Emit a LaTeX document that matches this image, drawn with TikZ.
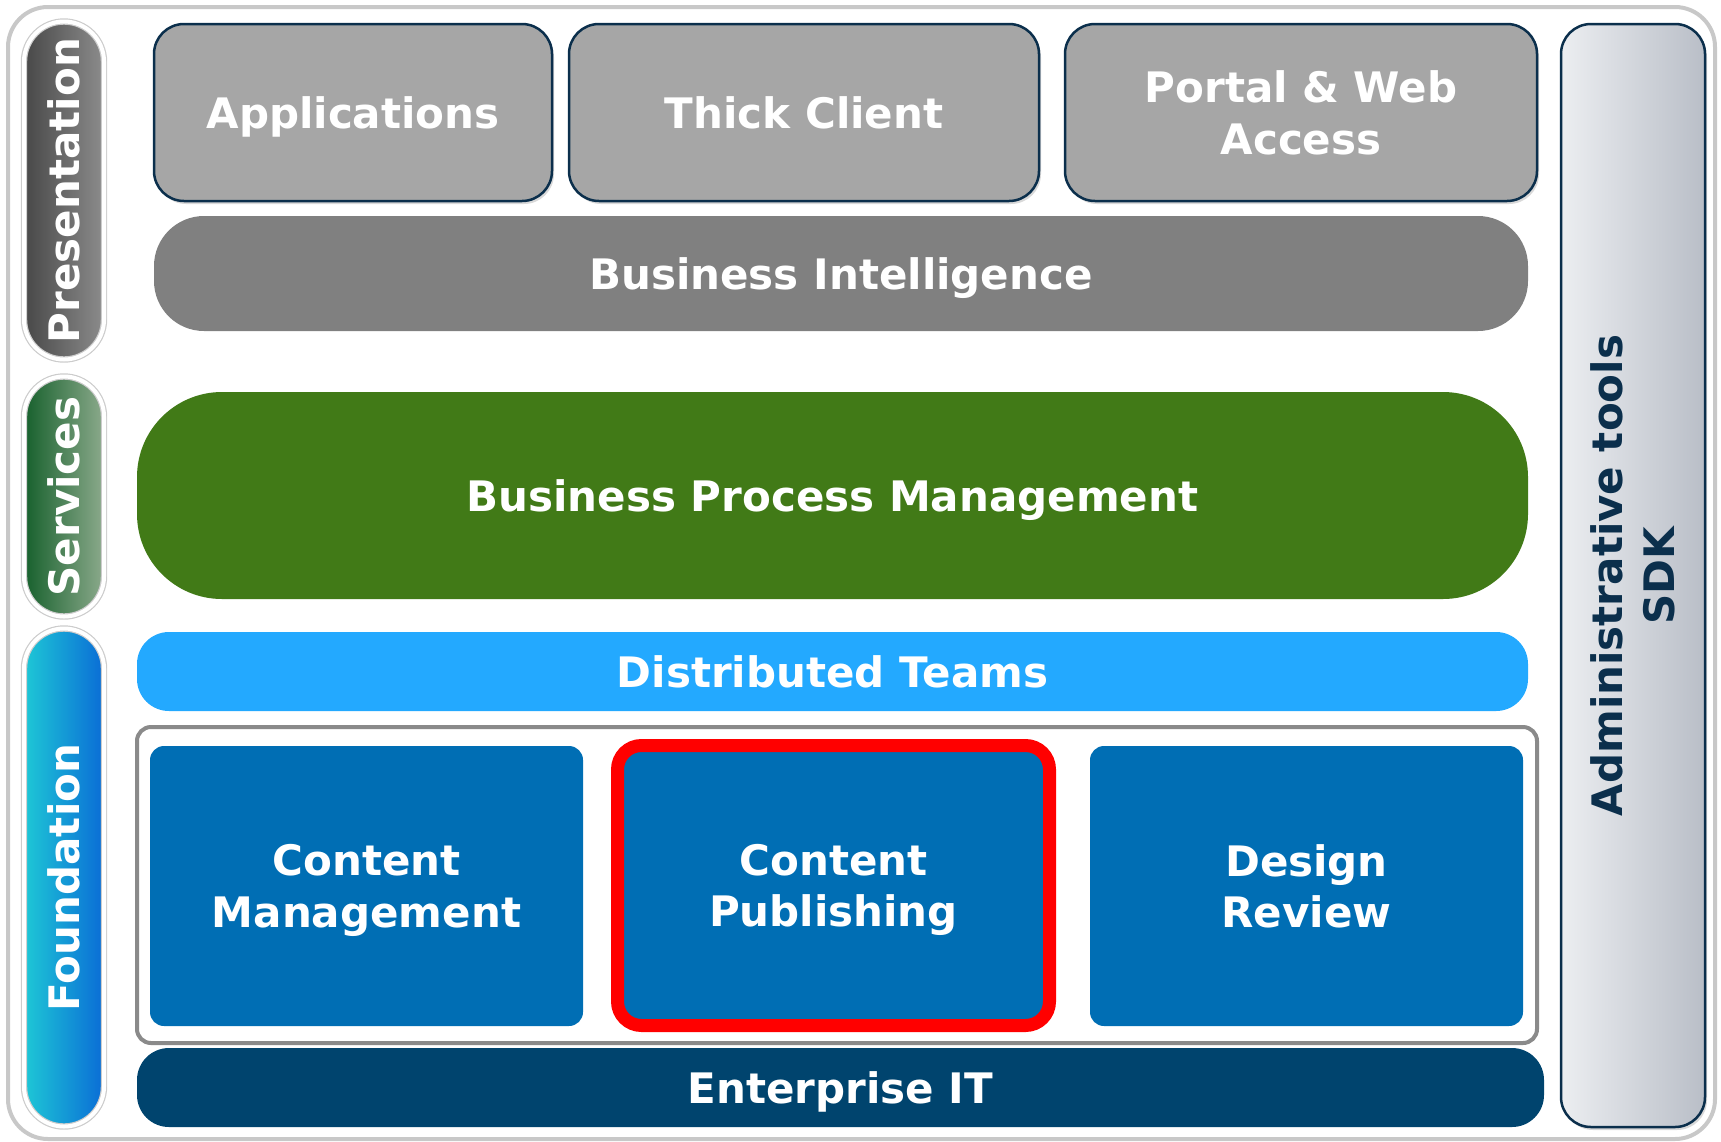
\documentclass[tikz,border=0pt]{standalone}
\usepackage{fontspec}
\setmainfont{DejaVu Sans}
\usetikzlibrary{shadows}

\definecolor{navyline}{HTML}{0B2F4C}
\definecolor{framegray}{HTML}{C8C8C8}
\definecolor{topgray}{HTML}{A6A6A6}
\definecolor{bigray}{HTML}{808080}
\definecolor{bpmgreen}{HTML}{417A17}
\definecolor{teamblue}{HTML}{23A9FF}
\definecolor{modblue}{HTML}{006EB4}
\definecolor{entnavy}{HTML}{00446E}
\definecolor{holdgray}{HTML}{8A8A8A}

\newcommand{\bigtext}{\fontsize{42}{51.5}\selectfont\bfseries}

\tikzset{
  layer/.style={text=white, font=\bigtext, align=center, inner sep=0pt, text depth=0pt},
  topbox/.style={layer, fill=topgray, draw=navyline, line width=2.5pt, rounded corners=30pt,
    minimum height=177pt, drop shadow={opacity=0.3, shadow xshift=2pt, shadow yshift=-3pt}},
  band/.style={layer, minimum width=1391pt},
  modbox/.style={layer, fill=modblue, rounded corners=14pt, minimum width=433pt, minimum height=280pt},
  sidepill/.style={layer, rotate=90, draw=gray!40, double=white, double distance=4pt,
    line width=1.2pt, rounded corners=40pt, minimum height=80pt,
    drop shadow={opacity=0.25, shadow xshift=2pt, shadow yshift=-2pt}}
}

\begin{document}
\begin{tikzpicture}[x=1pt,y=-1pt]
  \useasboundingbox (0,0) rectangle (1721,1141);
  \draw[framegray, line width=4pt, rounded corners=40pt] (8,7) rectangle (1715,1139);

  % layer labels on the left
  \node[sidepill, minimum width=338pt, left color=black!72, middle color=black!60, right color=black!45]
    (pres) at (64,190.5) {Presentation};
  \node[sidepill, minimum width=240pt,
    left color={rgb,255:red,22;green,96;blue,44}, middle color={rgb,255:red,44;green,116;blue,62},
    right color={rgb,255:red,140;green,170;blue,140}]
    (serv) at (64,496.5) {Services};
  \node[sidepill, minimum width=498pt,
    left color={rgb,255:red,30;green,200;blue,214}, middle color={rgb,255:red,20;green,166;blue,224},
    right color={rgb,255:red,10;green,108;blue,214}]
    (found) at (64,877.5) {Foundation};

  % presentation
  \node[topbox, minimum width=398pt] (apps) at (353,112.5) {Applications};
  \node[topbox, minimum width=470pt] (thick) at (804,112.5) {Thick Client};
  \node[topbox, minimum width=472pt] (portal) at (1301,112.5) {Portal \& Web\\Access};
  \node[band, fill=bigray, rounded corners=50pt, minimum width=1374pt, minimum height=115pt]
    (bi) at (841,273.5) {Business Intelligence};

  % services
  \node[band, fill=bpmgreen, rounded corners=85pt, minimum height=207pt]
    (bpm) at (832.5,495.5) {Business Process Management};

  % foundation
  \node[band, fill=teamblue, rounded corners=32pt, minimum height=79pt]
    (teams) at (832.5,671.5) {Distributed Teams};
  \node[draw=holdgray, line width=4pt, rounded corners=14pt, minimum width=1400pt, minimum height=316pt]
    (hold) at (837,885) {};
  \node[modbox] (cm) at (366.5,886) {Content\\Management};
  \node[modbox, draw=red, line width=13pt, rounded corners=24pt, minimum width=432pt]
    (cp) at (833.5,885.5) {Content\\Publishing};
  \node[modbox] (dr) at (1306.5,886) {Design\\Review};
  \node[band, fill=entnavy, rounded corners=32pt, minimum width=1407pt, minimum height=79pt]
    (eit) at (840.5,1087.5) {Enterprise IT};

  % tools column
  \node[rotate=90, font=\bigtext, align=center, inner sep=0pt, text=navyline, draw=navyline,
    line width=2.5pt, rounded corners=30pt, minimum width=1103pt, minimum height=144pt,
    left color={rgb,255:red,236;green,238;blue,241}, right color={rgb,255:red,185;green,190;blue,199},
    drop shadow={opacity=0.3, shadow xshift=2pt, shadow yshift=-3pt}]
    (admin) at (1633,575.5) {Administrative tools\\SDK};
\end{tikzpicture}
\end{document}
